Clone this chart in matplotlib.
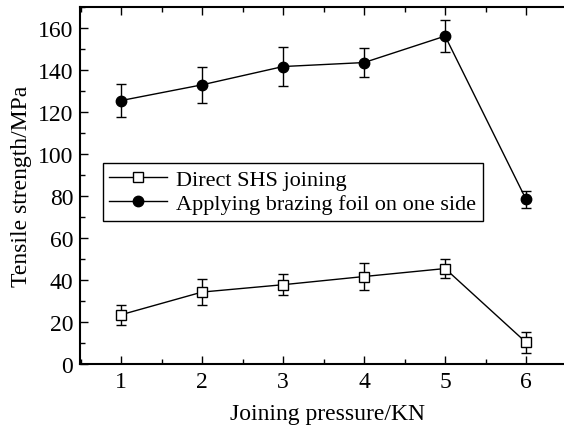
import matplotlib
matplotlib.use("Agg")
import matplotlib.pyplot as plt
from matplotlib.ticker import MultipleLocator
from matplotlib.lines import Line2D

plt.rcParams['font.family'] = ['Liberation Serif', 'DejaVu Serif']

# data
pressure = [1, 2, 3, 4, 5, 6]
direct = [23.5, 34.3, 37.8, 41.7, 45.5, 10.3]
direct_err = [4.8, 6.0, 5.0, 6.4, 4.4, 4.9]
foil = [125.5, 133.0, 141.7, 143.6, 156.2, 78.4]
foil_err = [8.0, 8.6, 9.5, 7.0, 7.5, 4.0]
labels = ['Direct SHS joining', 'Applying brazing foil on one side']

fig = plt.figure(figsize=(5.64, 4.27), dpi=100)
# the right side of the frame is cut off in the original
ax = fig.add_axes([0.142, 0.145, 0.877, 0.836])

ax.errorbar(pressure, direct, yerr=direct_err, color='black', lw=1.0,
            marker='s', ms=6.5, mfc='white', mec='black', mew=1.0,
            ecolor='black', elinewidth=1.0, capsize=3.5, capthick=1.0)
ax.errorbar(pressure, foil, yerr=foil_err, color='black', lw=1.0,
            marker='o', ms=7.5, mfc='black', mec='black',
            ecolor='black', elinewidth=1.0, capsize=3.5, capthick=1.0)

ax.set_xlim(0.494, 6.6)
ax.set_ylim(0, 170)
ax.set_xticks(pressure)
ax.set_yticks(range(0, 161, 20))
ax.xaxis.set_minor_locator(MultipleLocator(0.5))
ax.yaxis.set_minor_locator(MultipleLocator(10))
ax.tick_params(which='both', direction='in', top=True, right=False, labelsize=17, width=1.0)
ax.tick_params(which='major', length=6, pad=5)
ax.tick_params(which='minor', length=3.5)
for s in ax.spines.values():
    s.set_linewidth(1.5)
ax.spines['right'].set_visible(False)

ax.set_xlabel('Joining pressure/KN', fontsize=17, labelpad=8)
ax.set_ylabel('Tensile strength/MPa', fontsize=17, labelpad=4)

handles = [
    Line2D([], [], color='black', lw=1.0, marker='s', ms=6.5, mfc='white', mec='black'),
    Line2D([], [], color='black', lw=1.0, marker='o', ms=7.5, mfc='black', mec='black'),
]
leg = ax.legend(handles, labels, loc='upper left', bbox_to_anchor=(0.023, 0.595), fontsize=16,
                frameon=True, fancybox=False, edgecolor='black', framealpha=1,
                handlelength=2.6, borderpad=0.3, labelspacing=0.15, handletextpad=0.4)
leg.get_frame().set_linewidth(1.0)

fig.savefig('out.png', dpi=100)
